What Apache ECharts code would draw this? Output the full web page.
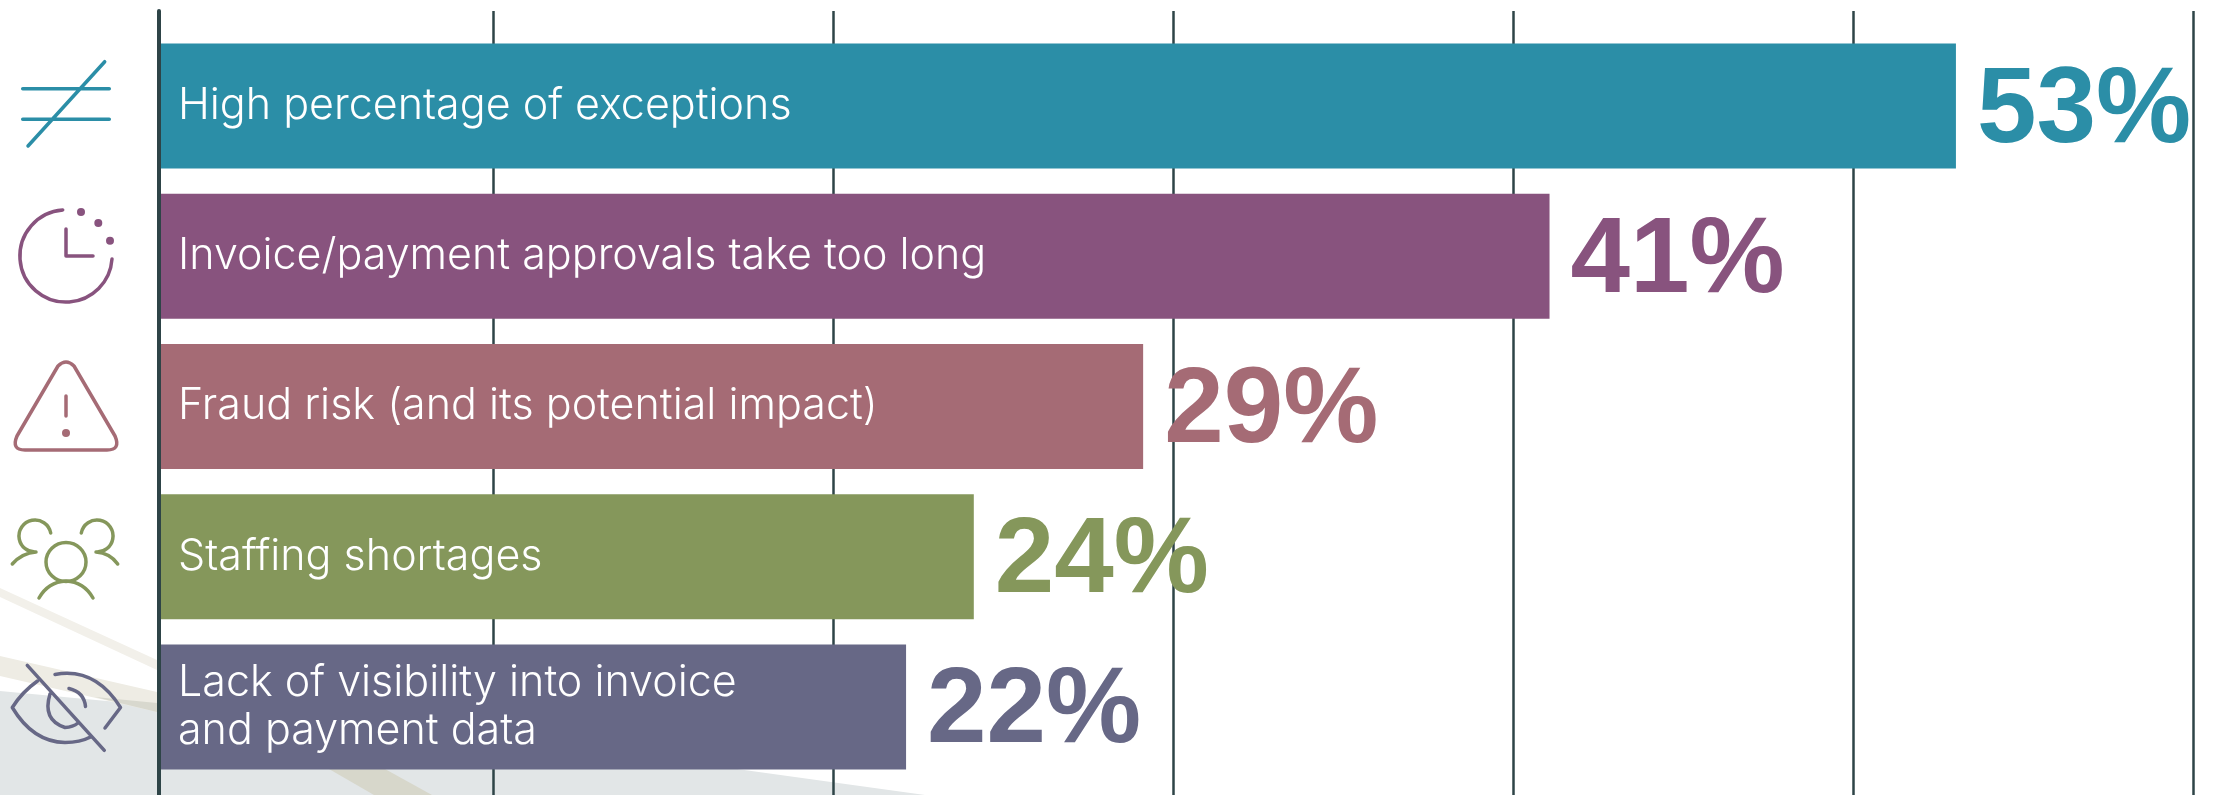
<!DOCTYPE html>
<html>
<head>
<meta charset="utf-8">
<title>Chart</title>
<script src="https://cdn.jsdelivr.net/npm/echarts@6/dist/echarts.min.js"></script>
<style>
  html, body { margin: 0; padding: 0; background: #fff; }
  #chart { width: 2216px; height: 795px; }
</style>
</head>
<body>
<div id="chart"></div>
<script>
var categories = [
  'High percentage of exceptions',
  'Invoice/payment approvals take too long',
  'Fraud risk (and its potential impact)',
  'Staffing shortages',
  'Lack of visibility into invoice\nand payment data'
];
var values = [53, 41, 29, 24, 22];
var colors = ['#2B8EA7', '#88537E', '#A56B75', '#85975B', '#676886'];

var myChart = echarts.init(document.getElementById('chart'));

var iconCount = 0;
function icon(path, color) {
  var name = 'icon' + (iconCount++);
  echarts.graphic.registerShape(name, echarts.graphic.extendPath(path, {}));
  return {
    type: name,
    style: { fill: 'none', stroke: color, lineWidth: 3.5, lineCap: 'round', lineJoin: 'round' }
  };
}
function dot(x, y, color) {
  return { type: 'circle', shape: { cx: x, cy: y, r: 4 }, style: { fill: color } };
}
function patch(points, color) {
  return { type: 'polygon', z: -10, shape: { points: points }, style: { fill: color } };
}

myChart.setOption({
  animation: false,
  backgroundColor: '#fff',
  grid: [
    { left: 161, top: 31, width: 2032, height: 751 },
    { left: 153, top: 11, width: 2040, height: 784 }
  ],
  xAxis: [
    { gridIndex: 0, type: 'value', min: 0, max: 60, show: false },
    {
      gridIndex: 1, type: 'value', min: 0, max: 60, interval: 10,
      axisLine: { show: false }, axisTick: { show: false }, axisLabel: { show: false },
      splitLine: { show: true, showMinLine: false, lineStyle: { color: '#2E4447', width: 2.5 } }
    }
  ],
  yAxis: [
    {
      gridIndex: 0, type: 'category', data: categories, inverse: true, z: 5,
      axisLine: { show: false }, axisTick: { show: false },
      axisLabel: {
        inside: true, margin: 17, color: '#fff', fontFamily: 'Inter', fontSize: 43,
        fontWeight: 300, lineHeight: 48, align: 'left'
      }
    },
    {
      gridIndex: 1, type: 'value', min: 0, max: 1, offset: -6,
      axisLine: { show: true, lineStyle: { color: '#2E4447', width: 4 } },
      axisTick: { show: false }, axisLabel: { show: false }, splitLine: { show: false }
    }
  ],
  series: [
    {
      type: 'bar',
      xAxisIndex: 0,
      yAxisIndex: 0,
      barWidth: 125,
      data: values.map(function (v, i) {
        return {
          value: v,
          itemStyle: { color: colors[i] },
          label: { color: colors[i] }
        };
      }),
      label: {
        show: true, position: 'right', distance: 21, offset: [0, 6], formatter: '{c}%',
        fontFamily: 'Liberation Sans', fontWeight: 700, fontSize: 107
      }
    }
  ],
  graphic: [
    // background swooshes
    patch([[0, 691], [160, 706], [737, 769], [925, 795], [0, 795]], '#E2E6E7'),
    patch([[0, 588], [157, 660], [157, 670], [0, 597]], '#F2F0EA'),
    patch([[0, 656], [157, 692], [157, 712], [0, 676]], '#EEECE4'),
    patch([[95, 697], [157, 703], [157, 712]], '#D8D8CE'),
    patch([[329, 769], [385, 769], [432, 795], [374, 795]], '#D7D7CB'),
    // not equal
    icon('M22.7,88.7 L109.3,88.7 M22.7,119.3 L109.3,119.3 M28,146 L104.7,61.7', colors[0]),
    // clock
    icon('M62.7,210 A46.1,46.1 0 1 0 112,259 M66,229 L66,256 L93,256', colors[1]),
    dot(81, 212, colors[1]), dot(98.3, 223, colors[1]), dot(110, 240.7, colors[1]),
    // warning
    icon('M58,366 Q66,358 74,366 L115,436 Q121,450 107,450 L25,450 Q11,450 17,436 Z M66,396 L66,416', colors[2]),
    dot(66, 433, colors[2]),
    // people
    icon('M50.7,533 A16,16 0 1 0 36,552 Q22,553 12.3,564 M81.3,533 A16,16 0 1 1 96,552 Q110,553 117.7,564', colors[3]),
    { type: 'ellipse', shape: { cx: 66, cy: 562, rx: 20, ry: 19.5 }, style: { fill: 'none', stroke: colors[3], lineWidth: 3.5 } },
    icon('M39,598 Q48,582 66,581 Q84,582 93,598', colors[3]),
    // eye with slash
    icon('M27.3,665.3 L104.3,750.3 M37.5,681 Q22,692 12.3,707.5 Q33,742 65,742.5 Q80,742.5 90.5,737 M55,674.5 Q95,667 120.5,707.5 L105,728 M50,694 Q42,720 65,727.5 Q73,727 78,723 M69,688.5 Q84,692 85.5,706.5', colors[4])
  ]
});
</script>
</body>
</html>
